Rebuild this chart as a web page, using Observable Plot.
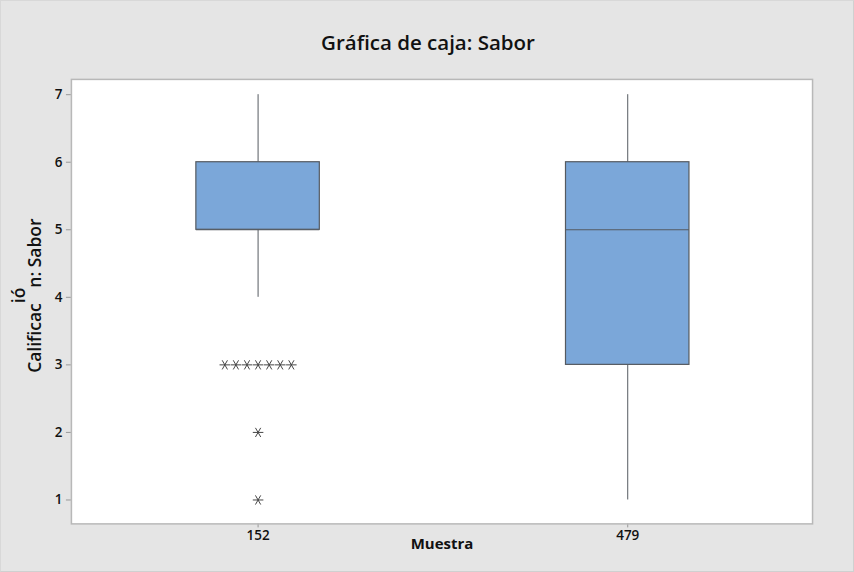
<!DOCTYPE html>
<html>
<head>
<meta charset="utf-8">
<script src="https://cdn.jsdelivr.net/npm/d3@7"></script>
<script src="https://cdn.jsdelivr.net/npm/@observablehq/plot@0.6"></script>
<style>
  html, body { margin: 0; padding: 0; background: #ffffff; }
  #wrap { position: relative; width: 854px; height: 572px; background: #e5e5e5; box-sizing: border-box; border-right: 1px solid #d0d0d0; border-bottom: 1px solid #d0d0d0; border-top: 1px solid #d8d8d8; border-left: 1px solid #d8d8d8; overflow: hidden; }
  #title { position: absolute; left: 0; width: 854px; top: 27px; text-align: center; font-family: "Open Sans", sans-serif; font-weight: 600; font-size: 20.5px; color: #111; }
  #chart { position: absolute; left: -1px; top: -1px; }
  #chart svg g[aria-label="x-axis tick label"] text, #chart svg g[aria-label="y-axis tick label"] text { font-size: 13.5px; }
</style>
</head>
<body>
<div id="wrap">
  <div id="title">Gráfica de caja: Sabor</div>
  <div id="chart"></div>
</div>
<script>
// Data
const samples      = ["152", "479"];
const whiskerLow   = [4, 1];
const q1           = [5, 3];
const median       = [5, 5];
const q3           = [6, 6];
const whiskerHigh  = [7, 7];
// outliers of sample "152"
const outlierSample = ["152","152","152","152","152","152","152","152","152"];
const outlierValue  = [3, 3, 3, 3, 3, 3, 3, 2, 1];
const yTicks = [1, 2, 3, 4, 5, 6, 7];

const boxHalf = 0.167;   // half box width in category units
const tieStep = 0.03;    // horizontal spread for tied outliers

const boxes = samples.map((s, i) => ({
  i, s, lo: whiskerLow[i], q1: q1[i], med: median[i], q3: q3[i], hi: whiskerHigh[i]
}));

// spread tied outliers horizontally (like Minitab)
const groups = d3.group(outlierValue.map((v, k) => ({s: outlierSample[k], v})), d => d.s + "|" + d.v);
const outliers = [];
for (const [, arr] of groups) {
  arr.forEach((d, j) => {
    const i = samples.indexOf(d.s);
    outliers.push({x: i + (j - (arr.length - 1) / 2) * tieStep, v: d.v});
  });
}

const stroke = "#555a60";
const plot = Plot.plot({
  width: 854,
  height: 572,
  marginLeft: 71,
  marginRight: 41,
  marginTop: 79,
  marginBottom: 48,
  style: {background: "transparent", fontFamily: "Open Sans, sans-serif", fontSize: "13.5px", color: "#111"},
  x: {domain: [-0.505, 1.5], ticks: [0, 1], tickFormat: i => samples[i], label: null, tickSize: 4},
  y: {domain: [0.646, 7.226], ticks: yTicks, tickFormat: d3.format("d"), label: null, tickSize: 5},
  marks: [
    Plot.frame({fill: "white", stroke: "none"}),
    // whiskers
    Plot.ruleX(boxes, {x: "i", y1: "lo", y2: "q1", stroke, strokeWidth: 1}),
    Plot.ruleX(boxes, {x: "i", y1: "q3", y2: "hi", stroke, strokeWidth: 1}),
    // boxes
    Plot.rect(boxes, {x1: d => d.i - boxHalf, x2: d => d.i + boxHalf, y1: "q1", y2: "q3", fill: "#7ba7d9", stroke, strokeWidth: 1.2}),
    // medians
    Plot.ruleY(boxes, {y: "med", x1: d => d.i - boxHalf, x2: d => d.i + boxHalf, stroke, strokeWidth: 1.2}),
    // outliers
    Plot.dot(outliers, {x: "x", y: "v", symbol: "asterisk", rotate: 90, r: 5, stroke: "#444", strokeWidth: 1}),
    Plot.axisX({ticks: [0, 1], tickFormat: i => samples[i], tickSize: 4, stroke: "#999", fontWeight: 600, tickPadding: 3, label: null}),
    Plot.axisY({ticks: yTicks, tickFormat: d3.format("d"), tickSize: 5, stroke: "#999", fontWeight: 600, tickPadding: 4, label: null}),
    Plot.frame({stroke: "#b8b8b8", strokeWidth: 1.5}),
    // x axis title
    Plot.text(["Muestra"], {frameAnchor: "bottom", dy: 25, fontSize: 15, fontWeight: 700, fill: "#111"})
  ]
});
document.getElementById("chart").appendChild(plot);

// y axis title (with the displaced "ió" as in the original)
const svg = d3.select(plot);
const t = svg.append("text")
  .attr("transform", "translate(36," + 296 + ") rotate(-90)")
  .attr("text-anchor", "middle")
  .attr("dominant-baseline", "middle")
  .attr("font-family", "Open Sans, sans-serif")
  .attr("font-size", 17.5)
  .attr("font-weight", 600)
  .attr("fill", "#111");
t.append("tspan").text("Calificac");
t.append("tspan").attr("dy", -16).text("ió");
t.append("tspan").attr("dy", 16).text("n: Sabor");
</script>
</body>
</html>
